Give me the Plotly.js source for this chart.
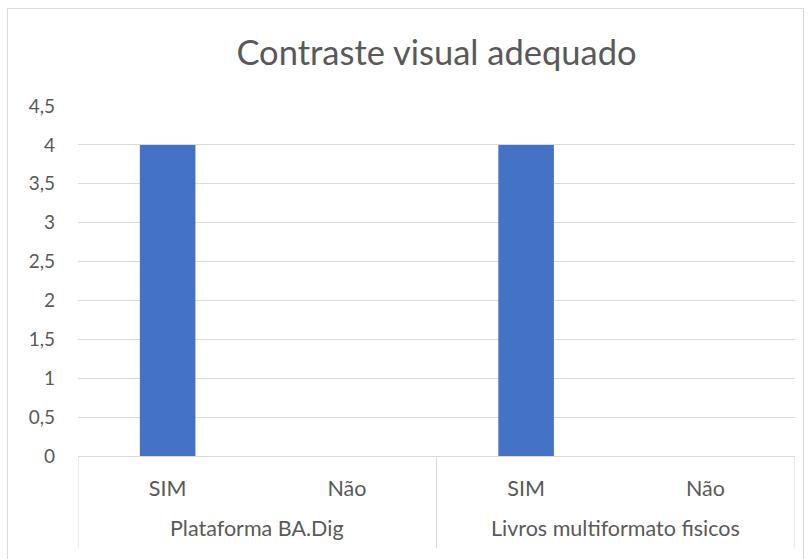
<!DOCTYPE html>
<html>
<head>
<meta charset="utf-8">
<script src="https://cdn.plot.ly/plotly-3.0.1.min.js"></script>
<style>
html,body{margin:0;padding:0;background:#fff;}
#wrap{position:relative;width:811px;height:559px;overflow:hidden;}
#chart{position:absolute;left:0;top:0;width:811px;height:559px;}
#frame{position:absolute;left:7px;top:8px;width:795px;height:600px;border:1px solid #d9d9d9;pointer-events:none;}
</style>
</head>
<body>
<div id="wrap"><div id="chart"></div><div id="frame"></div></div>
<script>
const groups = ["Plataforma BA.Dig", "Plataforma BA.Dig", "Livros multiformato fisicos", "Livros multiformato fisicos"];
const answers = ["SIM", "Não", "SIM", "Não"];
const values = [4, 0, 4, 0];
const yTicks = [0, 0.5, 1, 1.5, 2, 2.5, 3, 3.5, 4, 4.5];
const yTickLabels = ["0", "0,5", "1", "1,5", "2", "2,5", "3", "3,5", "4", "4,5"];

const font = "Lato, 'Open Sans', sans-serif";
const grey = "#595959";
const lineGrey = "#d9d9d9";

const xIdx = answers.map((_, i) => i);

// group label positions and dividers derived from the category indices
const groupNames = [];
const groupPos = {};
groups.forEach((g, i) => {
  if (!(g in groupPos)) { groupPos[g] = []; groupNames.push(g); }
  groupPos[g].push(i);
});
const annotations = groupNames.map(g => ({
  text: g, xref: "x", yref: "paper",
  x: groupPos[g].reduce((a, b) => a + b, 0) / groupPos[g].length,
  y: -0.206, yanchor: "middle", xanchor: "center", showarrow: false,
  font: {family: font, size: 21.5, color: grey}
}));
const dividerX = [-0.5];
groupNames.forEach(g => dividerX.push(Math.max(...groupPos[g]) + 0.5));
const shapes = dividerX.map(x => ({
  type: "line", xref: "x", yref: "paper", x0: x, x1: x, y0: 0, y1: -0.263,
  line: {color: lineGrey, width: 1}
}));

const trace = {
  type: "bar",
  x: xIdx,
  y: values,
  marker: {color: "#4472c4"},
  hoverinfo: "y"
};
const layout = {
  width: 811, height: 559,
  margin: {l: 78, r: 16, t: 106, b: 103},
  paper_bgcolor: "rgba(0,0,0,0)",
  plot_bgcolor: "rgba(0,0,0,0)",
  bargap: 0.69,
  showlegend: false,
  title: {text: "Contraste visual adequado", x: 0.5, xref: "paper", y: 1 - 53 / 559, yref: "container", yanchor: "middle",
          font: {family: font, size: 34.5, color: grey}},
  xaxis: {
    type: "linear",
    range: [-0.5, answers.length - 0.5],
    tickvals: xIdx, ticktext: answers,
    showline: true, linecolor: lineGrey, linewidth: 1,
    showgrid: false, zeroline: false,
    tickfont: {family: font, size: 21.5, color: grey},
    ticks: "", ticklabelstandoff: 13, fixedrange: true
  },
  yaxis: {
    range: [0, 4.5],
    tickvals: yTicks, ticktext: yTickLabels,
    showgrid: true, gridcolor: lineGrey, gridwidth: 1,
    zeroline: false, showline: false,
    tickfont: {family: font, size: 19, color: grey},
    ticks: "", ticklabelstandoff: 22, fixedrange: true
  },
  annotations: annotations,
  shapes: shapes
};
Plotly.newPlot("chart", [trace], layout, {displayModeBar: false, staticPlot: true});
</script>
</body>
</html>
